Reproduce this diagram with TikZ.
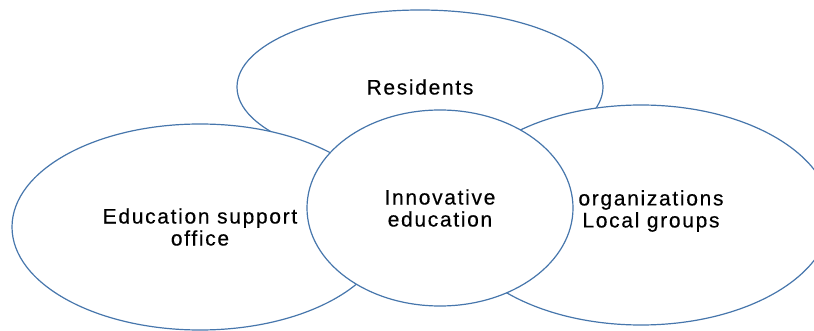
\documentclass[tikz,border=0pt]{standalone}
\usepackage{fontspec}
\newfontfamily\ringfont{Liberation Sans}[LetterSpace=8, FakeBold=0.4]
\definecolor{ringblue}{RGB}{70, 118, 172}
\usepackage{tikz}
\usetikzlibrary{shapes.geometric, positioning}

\tikzset{
  ring/.style={draw=ringblue, line width=1.2pt, fill=white, ellipse, inner sep=0pt,
    align=center, font=\ringfont\fontsize{21}{22}\selectfont}
}

\begin{document}
\begin{tikzpicture}[x=1pt, y=-1pt]
  \useasboundingbox (0,0) rectangle (814,331);
  \clip (0,0) rectangle (814,331);
  % back ring first, the side rings lie over it
  \node[ring, minimum width=366pt, minimum height=154pt] (residents) at (420,87) {Residents};
  \node[ring, minimum width=376pt, minimum height=206pt] (office) at (200,227) {Education support\\office};
  \node[ring, minimum width=380pt, minimum height=220pt] (groups) at (641,215) {};
  \node[align=center, inner sep=0pt, font=\ringfont\fontsize{21}{22}\selectfont] (groupstext) at (651,211) {organizations\\Local groups};
  % centre ring on top of all
  \node[ring, minimum width=266pt, minimum height=196pt] (innovation) at (440,208) {Innovative\\education};
\end{tikzpicture}
\end{document}
